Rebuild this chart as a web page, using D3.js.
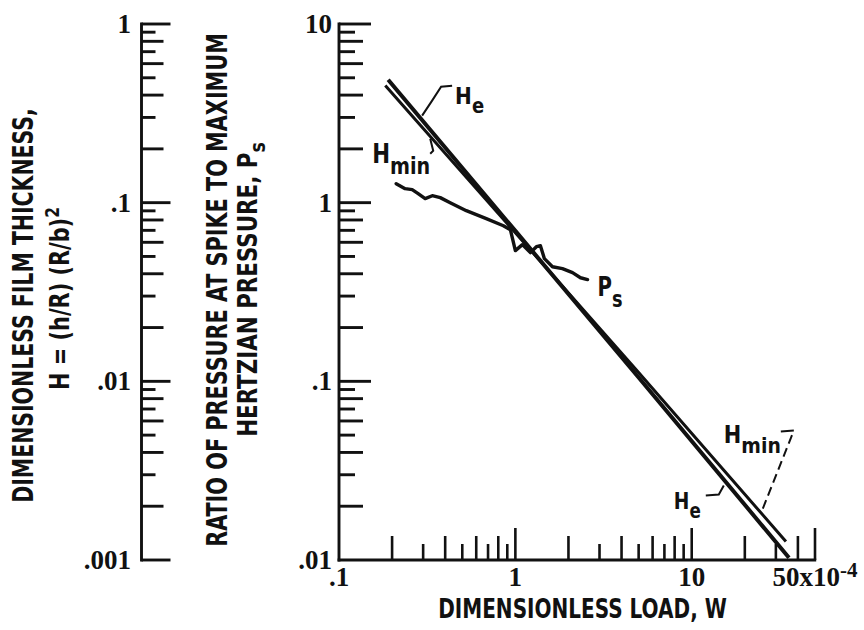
<!DOCTYPE html>
<html><head><meta charset="utf-8">
<script src="https://cdn.jsdelivr.net/npm/d3@7"></script>
<style>
html,body{margin:0;padding:0;background:#fff;}
svg{display:block;}
</style></head>
<body>
<svg id="chart" width="864" height="630"></svg>
<script>
// Dimensionless load W (x10^-4) and the curves plotted against it
const loadHe   = [0.19, 1.0, 5.0, 35.6];
const filmHe   = [4.88, 0.695, 0.105, 0.0103];
const loadHmin = [0.183, 1.0, 5.0, 34.2];
const filmHmin = [4.52, 0.678, 0.112, 0.0127];
const loadPs   = [0.211, 0.237, 0.260, 0.281, 0.308, 0.338, 0.375, 0.427, 0.527, 0.684, 0.855, 0.937,
                  1.0, 1.096, 1.217, 1.316, 1.387, 1.461, 1.623, 1.849, 2.109, 2.34, 2.566];
const spikePs  = [1.277, 1.198, 1.182, 1.123, 1.053, 1.094, 1.067, 1.0, 0.902, 0.814, 0.743, 0.706,
                  0.539, 0.582, 0.525, 0.567, 0.574, 0.486, 0.438, 0.427, 0.406, 0.380, 0.371];

// Tick labels
const loadTickValues  = [0.1, 1, 10, 50];
const loadTickLabels  = [".1", "1", "10", "50x10"];
const ratioTickValues = [10, 1, 0.1, 0.01];
const ratioTickLabels = ["10", "1", ".1", ".01"];
const filmTickValues  = [1, 0.1, 0.01, 0.001];
const filmTickLabels  = ["1", ".1", ".01", ".001"];

const sans  = "'DejaVu Sans Condensed','DejaVu Sans',sans-serif";
const serif = "'Liberation Serif','DejaVu Serif',serif";
const ink = "#111";
const axisW = 2.9;

const svg = d3.select("#chart");

const x      = d3.scaleLog().domain([0.1, 50]).range([339, 815]);
const yRatio = d3.scaleLog().domain([0.01, 10]).range([560, 24]);
const yFilm  = d3.scaleLog().domain([0.001, 1]).range([560, 24]);

const mant = v => Math.round(v / Math.pow(10, Math.floor(Math.log10(v) + 1e-9)));

// squeeze a text element horizontally to a given length
function fit(sel, len, tf) {
  const w = sel.node().getBBox().width;
  sel.attr("transform", `${tf} scale(${len / w},1)`);
}

// ---- left film-thickness axis ----
const leftX = 141.5;
svg.append("line").attr("x1", leftX).attr("x2", leftX)
  .attr("y1", yFilm.range()[1] - 1.4).attr("y2", yFilm.range()[0] + 1.4)
  .attr("stroke", ink).attr("stroke-width", axisW);
svg.append("g").selectAll("line").data(yFilm.ticks()).join("line")
  .attr("x1", leftX).attr("y1", d => yFilm(d)).attr("y2", d => yFilm(d))
  .attr("x2", d => { const m = mant(d); return leftX + (m === 1 ? 29 : m % 2 === 0 ? 22 : 14); })
  .attr("stroke", ink).attr("stroke-width", axisW);
svg.append("g").selectAll("text").data(filmTickValues).join("text")
  .attr("x", 131).attr("y", d => yFilm(d) + 9)
  .attr("text-anchor", "end").attr("font-family", serif).attr("font-weight", "bold")
  .attr("font-size", 27).attr("fill", ink)
  .text((d, i) => filmTickLabels[i]);

// ---- main plot axes ----
const x0 = x.range()[0], yb = yRatio.range()[0];
svg.append("line").attr("x1", x0).attr("x2", x0)
  .attr("y1", yRatio.range()[1] - 1.4).attr("y2", yb + 1.4)
  .attr("stroke", ink).attr("stroke-width", axisW);
svg.append("line").attr("x1", x0 - 1.4).attr("x2", x.range()[1] + 1.2)
  .attr("y1", yb).attr("y2", yb)
  .attr("stroke", ink).attr("stroke-width", axisW);

svg.append("g").selectAll("line").data(yRatio.ticks().filter(d => d > 0.0100001)).join("line")
  .attr("x1", x0).attr("y1", d => yRatio(d)).attr("y2", d => yRatio(d))
  .attr("x2", d => { const m = mant(d); return x0 + (m === 1 ? 32 : m % 2 === 0 ? 24 : 16); })
  .attr("stroke", ink).attr("stroke-width", axisW);
svg.append("g").selectAll("text").data(ratioTickValues).join("text")
  .attr("x", 332).attr("y", d => yRatio(d) + 9)
  .attr("text-anchor", "end").attr("font-family", serif).attr("font-weight", "bold")
  .attr("font-size", 27).attr("fill", ink)
  .text((d, i) => ratioTickLabels[i]);

const xEnd = x.domain()[1];
svg.append("g").selectAll("line").data(x.ticks().filter(d => d > 0.1000001)).join("line")
  .attr("x1", d => x(d)).attr("x2", d => x(d)).attr("y1", yb)
  .attr("y2", d => { const m = mant(d); return yb - (m === 1 || d === xEnd ? 32 : m % 2 === 0 ? 24 : 16); })
  .attr("stroke", ink).attr("stroke-width", 2.6);
const xl = svg.append("g").selectAll("text").data(loadTickValues).join("text")
  .attr("x", d => x(d)).attr("y", 586)
  .attr("text-anchor", "middle").attr("font-family", serif).attr("font-weight", "bold")
  .attr("font-size", 27).attr("fill", ink);
xl.append("tspan").text((d, i) => loadTickLabels[i]);
xl.filter(d => d === 50).append("tspan").attr("dy", -9).attr("font-size", 21).text("-4");

// ---- axis titles ----
const t1 = svg.append("text").attr("text-anchor", "middle").attr("font-family", sans)
  .attr("font-weight", "bold").attr("font-size", 28).attr("fill", ink)
  .text("DIMENSIONLESS FILM THICKNESS,");
fit(t1, 395, "translate(33,305.5) rotate(-90)");

const t2 = svg.append("text").attr("text-anchor", "middle").attr("font-family", sans)
  .attr("font-weight", "bold").attr("font-size", 27).attr("fill", ink);
t2.append("tspan").text("H = (h/R) (R/b)");
t2.append("tspan").attr("dy", -10).attr("font-size", 20).text("2");
fit(t2, 183, "translate(69,298.5) rotate(-90)");

const t3 = svg.append("text").attr("text-anchor", "middle").attr("font-family", sans)
  .attr("font-weight", "bold").attr("font-size", 28).attr("fill", ink)
  .text("RATIO OF PRESSURE AT SPIKE TO MAXIMUM");
fit(t3, 514, "translate(227,290) rotate(-90)");

const t4 = svg.append("text").attr("text-anchor", "middle").attr("font-family", sans)
  .attr("font-weight", "bold").attr("font-size", 27).attr("fill", ink);
t4.append("tspan").text("HERTZIAN PRESSURE, P");
t4.append("tspan").attr("dy", 8).attr("font-size", 22).text("s");
fit(t4, 295, "translate(257,289.5) rotate(-90)");

const t5 = svg.append("text").attr("text-anchor", "middle").attr("font-family", sans)
  .attr("font-weight", "bold").attr("font-size", 26).attr("fill", ink)
  .text("DIMENSIONLESS LOAD, W");
fit(t5, 289, "translate(582.5,618)");

// ---- curves ----
const line = d3.line().x(d => x(d[0])).y(d => yRatio(d[1]));
svg.append("path").datum(d3.zip(loadHmin, filmHmin)).attr("d", line)
  .attr("fill", "none").attr("stroke", ink).attr("stroke-width", 3);
svg.append("path").datum(d3.zip(loadHe, filmHe)).attr("d", line)
  .attr("fill", "none").attr("stroke", ink).attr("stroke-width", 4);
svg.append("path").datum(d3.zip(loadPs, spikePs)).attr("d", line)
  .attr("fill", "none").attr("stroke", ink).attr("stroke-width", 3.4)
  .attr("stroke-linejoin", "round").attr("stroke-linecap", "round");

// ---- curve labels with leaders ----
const notes = [
  { w: 0.296, v: 3.07, main: "H", sub: "e", lead: [[0, 0], [10, -15], [19, -29], [30, -30]], dx: 33, dy: -12, len: 29, fs: 23 },
  { w: 0.329, v: 2.28, main: "H", sub: "min", lead: [[0, 0], [3, 12], [0, 15]], dx: -58, dy: 24, len: 58, fs: 26 },
  { w: 15.2, v: 0.0261, main: "H", sub: "e", lead: [[0, 0], [-5, 9], [-18, 10]], dx: -50, dy: 23, len: 27, fs: 23 },
  { w: 25.3, v: 0.0194, main: "H", sub: "min", lead: [[31, -78], [18, -77]], dash: [[0, 0], [31, -78]], dx: -39, dy: -66, len: 57, fs: 24 },
  { w: loadPs[loadPs.length - 1], v: spikePs[spikePs.length - 1], main: "P", sub: "s", lead: null, dx: 10, dy: 16, len: 25, fs: 26 }
];
notes.forEach(n => {
  const ax = x(n.w), ay = yRatio(n.v);
  if (n.lead) svg.append("path").attr("d", d3.line()(n.lead.map(p => [ax + p[0], ay + p[1]])))
    .attr("fill", "none").attr("stroke", ink).attr("stroke-width", 2);
  if (n.dash) svg.append("path").attr("d", d3.line()(n.dash.map(p => [ax + p[0], ay + p[1]])))
    .attr("fill", "none").attr("stroke", ink).attr("stroke-width", 2).attr("stroke-dasharray", "9,5");
  const t = svg.append("text").attr("font-family", sans).attr("font-weight", "bold")
    .attr("font-size", n.fs).attr("fill", ink);
  t.append("tspan").text(n.main);
  t.append("tspan").attr("dy", n.fs * 0.42).attr("font-size", n.fs * 0.9).text(n.sub);
  fit(t, n.len, `translate(${ax + n.dx},${ay + n.dy})`);
});
</script>
</body></html>
